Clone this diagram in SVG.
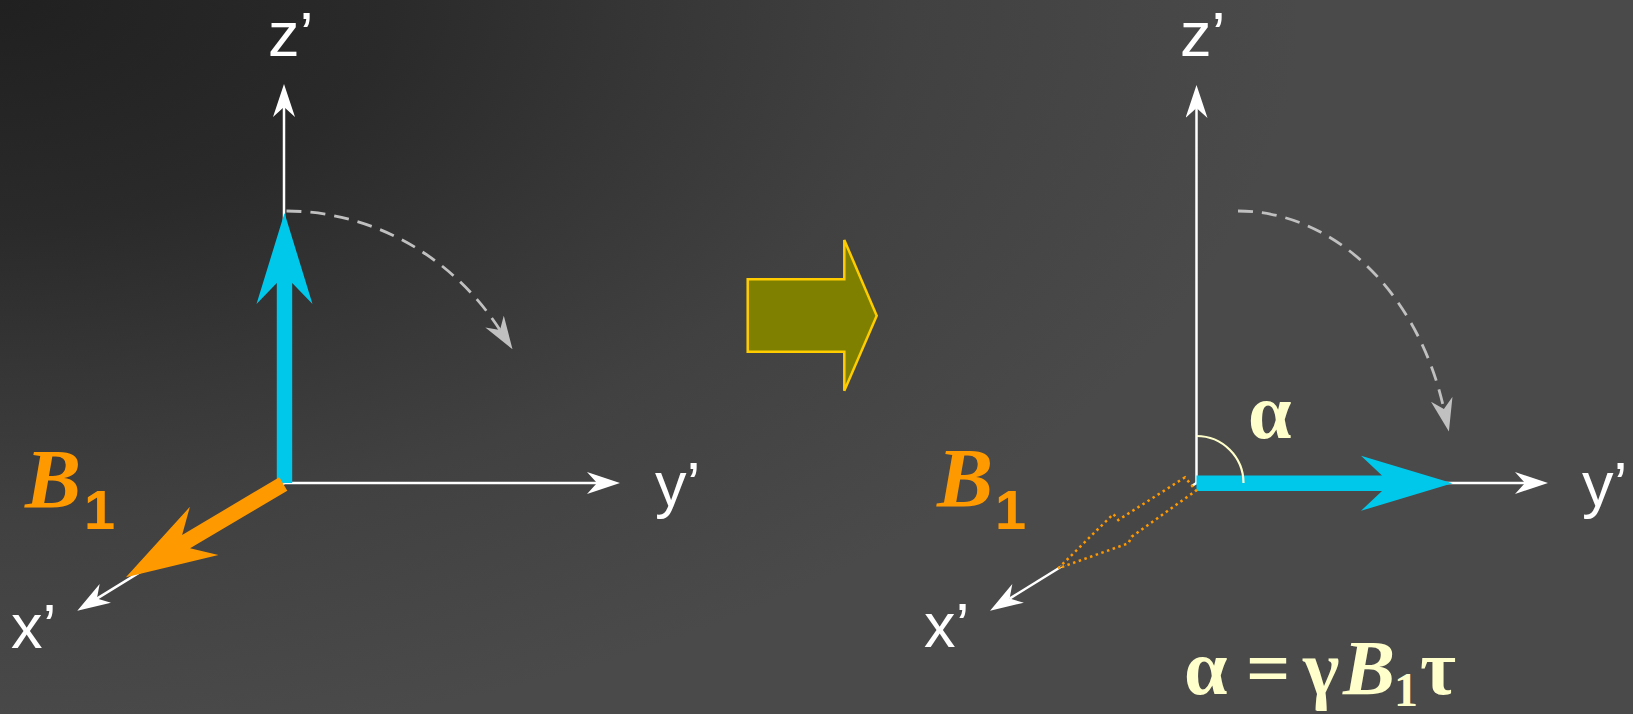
<svg xmlns="http://www.w3.org/2000/svg" width="1633" height="714" viewBox="0 0 1633 714">
<style>
.axis{stroke:#ffffff;stroke-width:2.5;fill:none;marker-end:url(#ah)}
.dash{stroke:#c0c0c0;stroke-width:2.8;fill:none;stroke-dasharray:15 9;marker-end:url(#ahg)}
.lbl{font-family:"Liberation Sans",Arial,sans-serif;font-size:63px;fill:#ffffff}
.bee{font-family:"Liberation Serif","Times New Roman",serif;font-size:84px;font-weight:bold;font-style:italic;fill:#ff9900}
.sub{font-family:"Liberation Sans",Arial,sans-serif;font-size:56px;font-weight:bold;fill:#ff9900}
.math{font-family:"Liberation Serif","Times New Roman",serif;font-size:78px;font-weight:bold;fill:#ffffcc}
.cyan{fill:#00c8eb}
.orange{fill:#ff9900}
</style>
<defs>
<radialGradient id="bg" gradientUnits="userSpaceOnUse" cx="0" cy="0" r="1300" gradientTransform="scale(1,0.577)">
<stop offset="0" stop-color="#202020"/>
<stop offset="0.3" stop-color="#2a2a2a"/>
<stop offset="0.5" stop-color="#363636"/>
<stop offset="0.7" stop-color="#414141"/>
<stop offset="0.9" stop-color="#474747"/>
<stop offset="1" stop-color="#4a4a4a"/>
</radialGradient>
<marker id="ah" viewBox="0 0 33 22" refX="10" refY="11" markerWidth="33" markerHeight="22" orient="auto" markerUnits="userSpaceOnUse">
<path d="M0,0 L33,11 L0,22 L10,11 Z" fill="#ffffff"/>
</marker>
<marker id="ahg" viewBox="0 0 33 22" refX="10" refY="11" markerWidth="33" markerHeight="22" orient="auto" markerUnits="userSpaceOnUse">
<path d="M0,0 L33,11 L0,22 L10,11 Z" fill="#c0c0c0"/>
</marker>
</defs>
<rect x="0" y="0" width="1633" height="714" fill="url(#bg)"/>

<g id="connectors">
<path class="axis" d="M284,483 V107"/>
<path class="axis" d="M284,483 H597"/>
<path class="axis" d="M284,483.5 L96.9,598.6"/>
<path class="dash" d="M286.5,211 A259,272 0 0 1 500,330"/>
<path class="axis" d="M1196.5,483 V108"/>
<path class="axis" d="M1196.5,483 H1525"/>
<path class="axis" d="M1196.5,483 L1009.6,598.6"/>
<path class="dash" d="M1238,211 A214,272 0 0 1 1443.9,409"/>
</g>

<g id="left-magnetization">
<path class="cyan" transform="translate(284.5,483) rotate(-90)" d="M0,-7.7 H200 L179,-28 L270,0 L179,28 L200,7.7 H0 Z"/>
</g>
<g id="left-b1">
<path class="orange" transform="translate(283.3,484) rotate(149.33)" d="M0,-7.8 H113 L92,-28 L183,0 L92,28 L113,7.8 H0 Z"/>
<text class="bee" x="25" y="508">B</text>
<text class="sub" x="84" y="529">1</text>
</g>
<g id="left-labels">
<text class="lbl" x="268" y="56">z’</text>
<text class="lbl" x="655" y="506">y’</text>
<text class="lbl" x="11" y="648">x’</text>
</g>

<g id="transition-arrow">
<polygon points="747.7,279.3 844.3,279.3 844.3,240 876.7,315.7 844.3,390.7 844.3,351.7 747.7,351.7" fill="#808000" stroke="#ffcc00" stroke-width="2.5" stroke-linejoin="miter"/>
</g>

<g id="right-magnetization">
<path class="cyan" transform="translate(1196.5,483.3)" d="M0,-7.7 H185.5 L164.5,-27.5 L256,0 L164.5,27.5 L185.5,7.7 H0 Z"/>
<path d="M1196.5,436 A47,47 0 0 1 1243.5,483" fill="none" stroke="#ffffcc" stroke-width="2.2"/>
<text class="math" x="1248" y="438">α</text>
</g>
<g id="right-b1">
<polygon points="1185,477.3 1118.3,520 1113.3,514 1058.3,568.3 1128.3,543.3 1131.7,536.7 1196,490.7" fill="#464646" stroke="#ff9900" stroke-width="2.5" stroke-dasharray="2.5 3.5"/>
<text class="bee" x="937" y="507">B</text>
<text class="sub" x="995" y="529">1</text>
</g>
<g id="right-labels">
<text class="lbl" x="1180" y="56">z’</text>
<text class="lbl" x="1582" y="506">y’</text>
<text class="lbl" x="924" y="647">x’</text>
</g>
<g id="equation">
<text class="math" y="694"><tspan x="1184">α</tspan><tspan x="1246">=</tspan><tspan x="1303">γ</tspan><tspan x="1343" font-style="italic">B</tspan><tspan x="1394" y="706" font-size="48">1</tspan><tspan x="1420" y="694">τ</tspan></text>
</g>
</svg>
